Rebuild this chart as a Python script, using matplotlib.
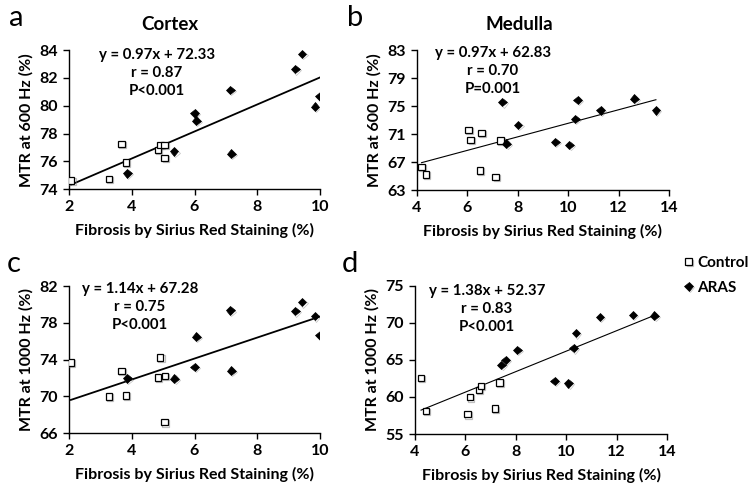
import matplotlib
matplotlib.use("Agg")
import matplotlib.pyplot as plt
import matplotlib.patheffects as pe
import numpy as np

plt.rcParams['font.family'] = ['Lato', 'DejaVu Sans']

# ---- data ----
# Panel a: Cortex, MTR at 600 Hz
a_ctrl_x = [2.07, 3.27, 3.67, 3.81, 4.83, 4.92, 5.04, 5.05]
a_ctrl_y = [74.63, 74.75, 77.27, 75.92, 76.84, 77.17, 77.17, 76.26]
a_aras_x = [3.86, 5.35, 6.00, 6.06, 7.14, 7.17, 9.21, 9.43, 9.84, 9.99]
a_aras_y = [75.15, 76.72, 79.46, 78.93, 81.14, 76.55, 82.63, 83.71, 79.94, 80.68]

# Panel b: Medulla, MTR at 600 Hz
b_ctrl_x = [4.20, 4.38, 6.05, 6.14, 6.57, 6.50, 7.13, 7.32]
b_ctrl_y = [66.27, 65.21, 71.61, 70.12, 71.17, 65.79, 64.83, 70.07]
b_aras_x = [7.40, 7.56, 8.02, 9.49, 10.05, 10.28, 10.38, 11.29, 12.62, 13.47]
b_aras_y = [75.55, 69.63, 72.28, 69.88, 69.44, 73.14, 75.88, 74.39, 76.03, 74.39]

# Panel c: Cortex, MTR at 1000 Hz
c_ctrl_x = [2.06, 3.27, 3.67, 3.81, 4.84, 4.91, 5.06, 5.04]
c_ctrl_y = [73.70, 70.00, 72.76, 70.11, 72.04, 74.25, 72.22, 67.20]
c_aras_x = [3.86, 5.36, 6.00, 6.06, 7.14, 7.17, 9.21, 9.43, 9.84, 9.99]
c_aras_y = [71.96, 71.93, 73.20, 76.51, 79.35, 72.80, 79.27, 80.25, 78.73, 76.65]

# Panel d: Medulla, MTR at 1000 Hz
d_ctrl_x = [4.24, 4.44, 6.08, 6.18, 6.53, 6.61, 7.17, 7.35]
d_ctrl_y = [62.57, 58.10, 57.66, 59.95, 60.95, 61.49, 58.42, 61.94]
d_aras_x = [7.43, 7.60, 8.06, 9.54, 10.09, 10.29, 10.39, 11.34, 12.65, 13.50]
d_aras_y = [64.32, 65.00, 66.35, 62.16, 61.85, 66.58, 68.60, 70.77, 71.04, 70.95]

# fits (slope, intercept) and annotations
fits = {'a': (0.97, 72.33), 'b': (0.97, 62.83), 'c': (1.14, 67.28), 'd': (1.38, 52.37)}
eq_texts = {
    'a': ["y = 0.97x + 72.33", "r = 0.87", "P<0.001"],
    'b': ["y = 0.97x + 62.83", "r = 0.70", "P=0.001"],
    'c': ["y = 1.14x + 67.28", "r = 0.75", "P<0.001"],
    'd': ["y = 1.38x + 52.37", "r = 0.83", "P<0.001"],
}
xticks_cortex = [2, 4, 6, 8, 10]
xticks_medulla = [4, 6, 8, 10, 12, 14]
yticks = {
    'a': [74, 76, 78, 80, 82, 84],
    'b': [63, 67, 71, 75, 79, 83],
    'c': [66, 70, 74, 78, 82],
    'd': [55, 60, 65, 70, 75],
}
ylabels = {'a': "MTR at 600 Hz (%)", 'b': "MTR at 600 Hz (%)",
           'c': "MTR at 1000 Hz (%)", 'd': "MTR at 1000 Hz (%)"}
xlabel = "Fibrosis by Sirius Red Staining (%)"
titles = {'a': "Cortex", 'b': "Medulla"}

W, H = 754, 492
fig = plt.figure(figsize=(W / 100, H / 100), dpi=100)


def ax_px(l, r, t, b):
    return fig.add_axes([l / W, 1 - b / H, (r - l) / W, (b - t) / H])


boxes = {
    'a': (69, 320, 50, 189.3),
    'b': (416.5, 669.3, 50, 190),
    'c': (69, 320, 286, 433.3),
    'd': (415, 667, 285.7, 434),
}
data = {
    'a': (a_ctrl_x, a_ctrl_y, a_aras_x, a_aras_y),
    'b': (b_ctrl_x, b_ctrl_y, b_aras_x, b_aras_y),
    'c': (c_ctrl_x, c_ctrl_y, c_aras_x, c_aras_y),
    'd': (d_ctrl_x, d_ctrl_y, d_aras_x, d_aras_y),
}
line_w = {'a': 1.3, 'b': 0.8, 'c': 1.3, 'd': 0.8}
eq_pos = {'a': (157, 55), 'b': (493, 53), 'c': (140, 289), 'd': (487, 291)}
letters = {'a': (16, 18), 'b': (355, 18), 'c': (14, 264), 'd': (350, 264)}
title_pos = {'a': (170, 24), 'b': (519, 24)}

shadow = [pe.SimpleLineShadow(offset=(0.8, -0.8), shadow_color='gray', alpha=0.5), pe.Normal()]
FS = 11.5

axes = {}
for k in ['a', 'b', 'c', 'd']:
    ax = ax_px(*boxes[k])
    axes[k] = ax
    cx, cy, ax_x, ax_y = data[k]
    xt = xticks_cortex if k in 'ac' else xticks_medulla
    yt = yticks[k]
    # trendline over data range
    allx = np.array(cx + ax_x)
    xs = np.array([allx.min(), allx.max()])
    m, b = fits[k]
    ax.plot(xs, m * xs + b, color='black', lw=line_w[k], zorder=2)
    ax.plot(cx, cy, linestyle='none', marker='s', ms=4.6, mfc='white', mec='black',
            mew=0.9, zorder=3, path_effects=shadow, label='Control')
    ax.plot(ax_x, ax_y, linestyle='none', marker='D', ms=4.4, mfc='black', mec='black',
            mew=0.5, zorder=4, path_effects=shadow, label='ARAS')
    ax.set_xlim(xt[0], xt[-1])
    ax.set_ylim(yt[0], yt[-1])
    ax.set_xticks(xt)
    ax.set_yticks(yt)
    for s in ['top', 'right']:
        ax.spines[s].set_visible(False)
    for s in ['left', 'bottom']:
        ax.spines[s].set_linewidth(1.0)
        ax.spines[s].set_clip_on(False)
    ax.tick_params(direction='out', length=4, width=1.0, labelsize=FS, pad=4)
    for lab in ax.get_xticklabels() + ax.get_yticklabels():
        lab.set_fontweight('bold')
    ax.set_xlabel(xlabel, fontsize=FS, fontweight='bold', labelpad=6)
    ax.set_ylabel(ylabels[k], fontsize=FS, fontweight='bold', labelpad=4)
    ex, ey = eq_pos[k]
    for i, t in enumerate(eq_texts[k]):
        fig.text(ex / W, 1 - (ey + i * 18) / H, t, ha='center', va='center',
                 fontsize=10.8, fontweight='bold')
    lx, ly = letters[k]
    fig.text(lx / W, 1 - ly / H, k, ha='center', va='center', fontsize=21)
    if k in titles:
        tx, ty = title_pos[k]
        fig.text(tx / W, 1 - ty / H, titles[k], ha='center', va='center',
                 fontsize=13.5, fontweight='bold')

h, l = axes['d'].get_legend_handles_labels()
leg = fig.legend(h, l, loc='upper left', bbox_to_anchor=(684 / W, 1 - 256 / H),
                 frameon=False, prop={'weight': 'bold', 'size': 11},
                 handlelength=0.6, handletextpad=0.25, labelspacing=0.7, borderaxespad=0,
                 borderpad=0)

fig.savefig('out.png', dpi=100)
